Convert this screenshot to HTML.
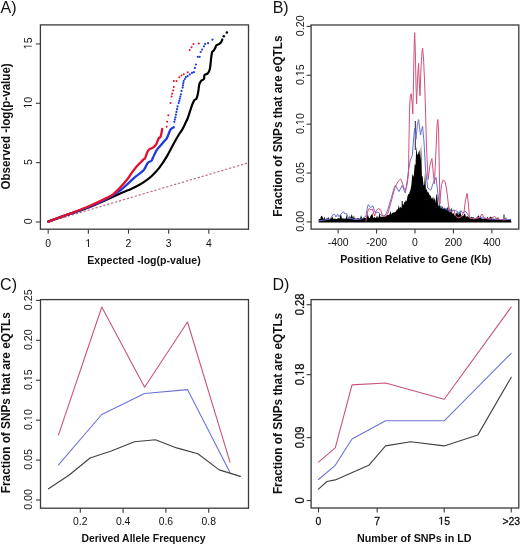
<!DOCTYPE html>
<html><head><meta charset="utf-8"><style>
html,body{margin:0;padding:0;background:#fff;}
svg{display:block;will-change:transform;filter:blur(0.35px);}
text{font-family:"Liberation Sans", sans-serif;}
</style></head><body>
<svg width="520" height="545" viewBox="0 0 520 545">
<rect width="520" height="545" fill="#fff"/>
<text x="0.5" y="13.2" font-size="16" fill="#111">A)</text>
<line x1="48.20" y1="222.00" x2="248" y2="162.93" stroke="#bb6a84" stroke-width="1.15" stroke-dasharray="2.3,1.8"/>
<path d="M48.20,221.60 C50.17,220.88 55.73,218.80 60.00,217.30 C64.27,215.80 68.80,214.33 73.80,212.60 C78.80,210.87 84.73,208.97 90.00,206.90 C95.27,204.83 100.27,202.47 105.40,200.20 C110.53,197.93 116.95,194.98 120.80,193.30 C124.65,191.62 125.93,191.22 128.50,190.10 C131.07,188.98 133.65,187.93 136.20,186.60 C138.75,185.27 141.25,183.83 143.80,182.10 C146.35,180.37 148.93,178.57 151.50,176.20 C154.07,173.83 156.63,171.20 159.20,167.90 C161.77,164.60 164.53,160.35 166.90,156.40 C169.27,152.45 171.45,147.77 173.40,144.20 C175.35,140.63 177.07,137.53 178.60,135.00 C180.13,132.47 181.53,130.83 182.60,129.00 C183.67,127.17 184.17,125.75 185.00,124.00 C185.83,122.25 186.80,120.52 187.60,118.50 C188.40,116.48 189.07,114.10 189.80,111.90 C190.53,109.70 191.27,107.23 192.00,105.30 C192.73,103.37 193.47,101.40 194.20,100.30 C194.93,99.20 195.77,99.88 196.40,98.70 C197.03,97.52 197.55,95.42 198.00,93.20 C198.45,90.98 198.82,87.07 199.10,85.40 C199.38,83.73 199.30,84.02 199.70,83.20 C200.10,82.38 200.78,81.20 201.50,80.50 C202.22,79.80 203.50,79.90 204.00,79.00 C204.50,78.10 203.85,76.07 204.50,75.10 C205.15,74.13 207.02,74.17 207.90,73.20 C208.78,72.23 209.32,71.22 209.80,69.30 C210.28,67.38 210.55,63.78 210.80,61.70 C211.05,59.62 211.07,58.42 211.30,56.80 C211.53,55.18 211.80,53.03 212.20,52.00 C212.60,50.97 213.22,51.23 213.70,50.60 C214.18,49.97 214.63,49.08 215.10,48.20 C215.57,47.32 215.78,46.02 216.50,45.30 C217.22,44.58 218.60,44.47 219.40,43.90 C220.20,43.33 220.82,42.63 221.30,41.90 C221.78,41.17 222.13,39.90 222.30,39.50" fill="none" stroke="#000" stroke-width="2.2" stroke-linecap="round" stroke-linejoin="round"/>
<path d="M48.20,221.60 C50.17,220.88 55.73,218.83 60.00,217.30 C64.27,215.77 68.80,214.20 73.80,212.40 C78.80,210.60 84.73,208.65 90.00,206.50 C95.27,204.35 100.27,202.25 105.40,199.50 C110.53,196.75 116.95,192.73 120.80,190.00 C124.65,187.27 125.93,185.40 128.50,183.10 C131.07,180.80 133.65,178.38 136.20,176.20 C138.75,174.02 141.88,172.20 143.80,170.00 C145.72,167.80 146.42,164.53 147.70,163.00 C148.98,161.47 150.63,161.67 151.50,160.80 C152.37,159.93 152.03,159.58 152.90,157.80 C153.77,156.02 155.42,152.13 156.70,150.10 C157.98,148.07 159.32,147.10 160.60,145.60 C161.88,144.10 163.33,142.38 164.40,141.10 C165.47,139.82 166.13,139.50 167.00,137.90 C167.87,136.30 168.93,132.98 169.60,131.50 C170.27,130.02 170.30,129.70 171.00,129.00 C171.70,128.30 173.33,127.58 173.80,127.30" fill="none" stroke="#1f3be0" stroke-width="2.3" stroke-linecap="round" stroke-linejoin="round"/>
<path d="M48.20,221.60 C50.17,220.87 55.73,218.77 60.00,217.20 C64.27,215.63 68.80,214.10 73.80,212.20 C78.80,210.30 84.73,208.07 90.00,205.80 C95.27,203.53 101.55,200.52 105.40,198.60 C109.25,196.68 110.53,196.25 113.10,194.30 C115.67,192.35 118.23,189.67 120.80,186.90 C123.37,184.13 126.72,180.00 128.50,177.70 C130.28,175.40 130.22,174.90 131.50,173.10 C132.78,171.30 134.65,168.70 136.20,166.90 C137.75,165.10 139.53,163.58 140.80,162.30 C142.07,161.02 143.08,159.87 143.80,159.20 C144.52,158.53 144.57,159.33 145.10,158.30 C145.63,157.27 146.35,154.47 147.00,153.00 C147.65,151.53 148.02,150.40 149.00,149.50 C149.98,148.60 151.72,148.47 152.90,147.60 C154.08,146.73 155.15,145.80 156.10,144.30 C157.05,142.80 157.85,139.88 158.60,138.60 C159.35,137.32 160.05,137.90 160.60,136.60 C161.15,135.30 161.63,132.07 161.90,130.80 C162.17,129.53 162.15,129.30 162.20,129.00" fill="none" stroke="#e0102e" stroke-width="2.3" stroke-linecap="round" stroke-linejoin="round"/>
<circle cx="174.30" cy="121.80" r="1.1" fill="#1f3be0"/>
<circle cx="174.85" cy="119.60" r="1.1" fill="#1f3be0"/>
<circle cx="175.40" cy="117.40" r="1.1" fill="#1f3be0"/>
<circle cx="175.95" cy="114.65" r="1.1" fill="#1f3be0"/>
<circle cx="176.50" cy="111.90" r="1.1" fill="#1f3be0"/>
<circle cx="177.05" cy="109.15" r="1.1" fill="#1f3be0"/>
<circle cx="177.60" cy="106.40" r="1.1" fill="#1f3be0"/>
<circle cx="178.70" cy="103.10" r="1.1" fill="#1f3be0"/>
<circle cx="179.25" cy="100.90" r="1.1" fill="#1f3be0"/>
<circle cx="179.80" cy="98.70" r="1.1" fill="#1f3be0"/>
<circle cx="180.35" cy="96.50" r="1.1" fill="#1f3be0"/>
<circle cx="180.90" cy="94.30" r="1.1" fill="#1f3be0"/>
<circle cx="181.50" cy="90.90" r="1.1" fill="#1f3be0"/>
<circle cx="182.60" cy="87.60" r="1.1" fill="#1f3be0"/>
<circle cx="182.97" cy="85.40" r="1.1" fill="#1f3be0"/>
<circle cx="183.33" cy="83.20" r="1.1" fill="#1f3be0"/>
<circle cx="183.70" cy="81.00" r="1.1" fill="#1f3be0"/>
<circle cx="184.80" cy="79.10" r="1.1" fill="#1f3be0"/>
<circle cx="185.90" cy="77.20" r="1.1" fill="#1f3be0"/>
<circle cx="187.60" cy="76.10" r="1.1" fill="#1f3be0"/>
<circle cx="189.80" cy="74.40" r="1.1" fill="#1f3be0"/>
<circle cx="192.00" cy="72.80" r="1.1" fill="#1f3be0"/>
<circle cx="193.90" cy="72.20" r="1.1" fill="#1f3be0"/>
<circle cx="194.90" cy="67.90" r="1.1" fill="#1f3be0"/>
<circle cx="195.90" cy="64.50" r="1.1" fill="#1f3be0"/>
<circle cx="197.80" cy="56.80" r="1.1" fill="#1f3be0"/>
<circle cx="199.70" cy="56.80" r="1.1" fill="#1f3be0"/>
<circle cx="200.70" cy="52.00" r="1.1" fill="#1f3be0"/>
<circle cx="202.10" cy="49.60" r="1.1" fill="#1f3be0"/>
<circle cx="204.00" cy="46.30" r="1.1" fill="#1f3be0"/>
<circle cx="205.20" cy="43.90" r="1.1" fill="#1f3be0"/>
<circle cx="208.10" cy="43.20" r="1.1" fill="#1f3be0"/>
<circle cx="212.50" cy="39.70" r="1.1" fill="#1f3be0"/>
<circle cx="166.60" cy="126.80" r="1.0" fill="#e0102e"/>
<circle cx="167.20" cy="121.80" r="1.0" fill="#e0102e"/>
<circle cx="168.30" cy="115.20" r="1.0" fill="#e0102e"/>
<circle cx="170.50" cy="103.10" r="1.0" fill="#e0102e"/>
<circle cx="171.60" cy="96.50" r="1.0" fill="#e0102e"/>
<circle cx="172.10" cy="93.70" r="1.0" fill="#e0102e"/>
<circle cx="173.20" cy="90.40" r="1.0" fill="#e0102e"/>
<circle cx="173.80" cy="87.10" r="1.0" fill="#e0102e"/>
<circle cx="173.80" cy="81.00" r="1.0" fill="#e0102e"/>
<circle cx="176.50" cy="81.00" r="1.0" fill="#e0102e"/>
<circle cx="179.30" cy="77.20" r="1.0" fill="#e0102e"/>
<circle cx="181.50" cy="75.50" r="1.0" fill="#e0102e"/>
<circle cx="183.80" cy="74.20" r="1.0" fill="#e0102e"/>
<circle cx="187.70" cy="72.20" r="1.0" fill="#e0102e"/>
<circle cx="189.60" cy="50.10" r="1.0" fill="#e0102e"/>
<circle cx="191.50" cy="47.20" r="1.0" fill="#e0102e"/>
<circle cx="193.50" cy="43.90" r="1.0" fill="#e0102e"/>
<circle cx="198.80" cy="43.40" r="1.0" fill="#e0102e"/>
<circle cx="223.80" cy="36.20" r="1.3" fill="#000"/>
<circle cx="226.90" cy="32.50" r="1.3" fill="#000"/>
<rect x="40.4" y="24.9" width="208.10" height="204.30" fill="none" stroke="#3a3a3a" stroke-width="1.3"/>
<line x1="48.20" y1="229.2" x2="48.20" y2="233.7" stroke="#3a3a3a" stroke-width="1.1"/>
<g transform="translate(48.20 247.0) scale(0.93 1)"><text x="0" y="0" font-size="11.2" text-anchor="middle" fill="#111" >0</text></g>
<line x1="88.35" y1="229.2" x2="88.35" y2="233.7" stroke="#3a3a3a" stroke-width="1.1"/>
<g transform="translate(88.35 247.0) scale(0.93 1)"><text x="0" y="0" font-size="11.2" text-anchor="middle" fill="#111" > </text><path d="M515,0 L515,1237 L197,1010 L197,1180 L530,1409 L696,1409 L696,0 Z" transform="translate(-3.114 0) scale(0.00547 -0.00547)" fill="#111" /></g>
<line x1="128.50" y1="229.2" x2="128.50" y2="233.7" stroke="#3a3a3a" stroke-width="1.1"/>
<g transform="translate(128.50 247.0) scale(0.93 1)"><text x="0" y="0" font-size="11.2" text-anchor="middle" fill="#111" >2</text></g>
<line x1="168.65" y1="229.2" x2="168.65" y2="233.7" stroke="#3a3a3a" stroke-width="1.1"/>
<g transform="translate(168.65 247.0) scale(0.93 1)"><text x="0" y="0" font-size="11.2" text-anchor="middle" fill="#111" >3</text></g>
<line x1="208.80" y1="229.2" x2="208.80" y2="233.7" stroke="#3a3a3a" stroke-width="1.1"/>
<g transform="translate(208.80 247.0) scale(0.93 1)"><text x="0" y="0" font-size="11.2" text-anchor="middle" fill="#111" >4</text></g>
<line x1="40.4" y1="222.00" x2="35.9" y2="222.00" stroke="#3a3a3a" stroke-width="1.1"/>
<g transform="translate(31.8 221.40) rotate(-90) scale(0.92 1)"><text x="0" y="0" font-size="11.6" text-anchor="middle" fill="#111" >0</text></g>
<line x1="40.4" y1="162.65" x2="35.9" y2="162.65" stroke="#3a3a3a" stroke-width="1.1"/>
<g transform="translate(31.8 162.05) rotate(-90) scale(0.92 1)"><text x="0" y="0" font-size="11.6" text-anchor="middle" fill="#111" >5</text></g>
<line x1="40.4" y1="103.30" x2="35.9" y2="103.30" stroke="#3a3a3a" stroke-width="1.1"/>
<g transform="translate(31.8 102.70) rotate(-90) scale(0.92 1)"><text x="0" y="0" font-size="11.6" text-anchor="middle" fill="#111" > 0</text><path d="M515,0 L515,1237 L197,1010 L197,1180 L530,1409 L696,1409 L696,0 Z" transform="translate(-6.451 0) scale(0.00566 -0.00566)" fill="#111" /></g>
<line x1="40.4" y1="43.95" x2="35.9" y2="43.95" stroke="#3a3a3a" stroke-width="1.1"/>
<g transform="translate(31.8 43.35) rotate(-90) scale(0.92 1)"><text x="0" y="0" font-size="11.6" text-anchor="middle" fill="#111" > 5</text><path d="M515,0 L515,1237 L197,1010 L197,1180 L530,1409 L696,1409 L696,0 Z" transform="translate(-6.451 0) scale(0.00566 -0.00566)" fill="#111" /></g>
<text x="87.19999999999999" y="263.7" font-size="11.5" font-weight="bold" fill="#111" textLength="113.50" lengthAdjust="spacingAndGlyphs">Expected -log(p-value)</text>
<text x="0" y="0" font-size="12.6" font-weight="bold" fill="#111" textLength="126.20" lengthAdjust="spacingAndGlyphs" transform="translate(9.8 189.5) rotate(-90)">Observed -log(p-value)</text>
<text x="272.7" y="13.0" font-size="16" fill="#111">B)</text>
<path d="M318.70,219.42 L319.50,218.92 L320.30,219.04 L321.10,215.80 L321.90,216.01 L322.70,217.17 L323.50,219.14 L324.30,216.62 L325.10,219.13 L325.90,218.75 L326.70,218.49 L327.50,218.60 L328.30,216.78 L329.10,219.34 L329.90,219.15 L330.70,218.51 L331.50,218.29 L332.30,216.35 L333.10,218.51 L333.90,219.11 L334.70,218.40 L335.50,218.66 L336.30,219.07 L337.10,218.76 L337.90,218.35 L338.70,218.22 L339.50,218.65 L340.30,215.25 L341.10,214.61 L341.90,218.49 L342.70,218.30 L343.50,218.49 L344.30,218.38 L345.10,218.71 L345.90,218.50 L346.70,214.41 L347.50,218.70 L348.30,218.18 L349.10,218.44 L349.90,215.19 L350.70,218.55 L351.50,214.08 L352.30,215.89 L353.10,218.51 L353.90,215.15 L354.70,218.49 L355.50,218.46 L356.30,218.67 L357.10,218.45 L357.90,217.88 L358.70,218.49 L359.50,218.67 L360.30,217.90 L361.10,215.08 L361.90,218.06 L362.70,218.11 L363.50,218.02 L364.30,217.53 L365.10,218.07 L365.90,218.05 L366.70,217.68 L367.50,214.00 L368.30,215.95 L369.10,218.00 L369.90,217.86 L370.70,215.55 L371.50,214.78 L372.30,212.97 L373.10,217.20 L373.90,218.01 L374.70,217.12 L375.50,217.88 L376.30,217.40 L377.10,215.53 L377.90,217.83 L378.70,217.03 L379.50,212.49 L380.30,216.86 L381.10,216.43 L381.90,217.12 L382.70,216.55 L383.50,216.76 L384.30,217.01 L385.10,215.83 L385.90,215.83 L386.70,215.60 L387.50,215.09 L388.30,214.74 L389.10,215.30 L389.90,213.07 L390.70,210.99 L391.50,214.74 L392.30,212.60 L393.10,213.25 L393.90,211.66 L394.70,212.53 L395.50,211.81 L396.30,210.81 L397.10,208.94 L397.90,209.73 L398.70,205.10 L399.50,208.71 L400.30,206.27 L401.10,208.33 L401.90,207.13 L402.70,202.89 L403.50,205.24 L404.30,201.67 L405.10,202.30 L405.90,199.70 L406.70,201.76 L407.50,196.01 L408.30,194.13 L409.10,193.71 L409.90,191.36 L410.70,188.99 L411.50,183.81 L412.30,173.19 L413.10,176.93 L413.90,174.72 L414.70,163.66 L415.50,165.61 L416.30,146.39 L417.10,154.04 L417.90,154.72 L418.70,151.75 L419.50,149.83 L420.30,159.88 L421.10,143.68 L421.90,176.17 L422.70,176.30 L423.50,185.46 L424.30,184.17 L425.10,171.14 L425.90,190.14 L426.70,188.52 L427.50,192.17 L428.30,191.95 L429.10,194.02 L429.90,195.82 L430.70,195.60 L431.50,198.35 L432.30,198.70 L433.10,196.46 L433.90,200.53 L434.70,197.62 L435.50,203.11 L436.30,195.20 L437.10,193.40 L437.90,203.78 L438.70,206.56 L439.50,202.25 L440.30,205.89 L441.10,208.99 L441.90,205.54 L442.70,207.29 L443.50,208.97 L444.30,207.14 L445.10,209.83 L445.90,207.71 L446.70,209.48 L447.50,206.41 L448.30,211.00 L449.10,205.90 L449.90,212.79 L450.70,208.93 L451.50,207.88 L452.30,213.51 L453.10,213.86 L453.90,213.06 L454.70,215.68 L455.50,214.42 L456.30,212.19 L457.10,214.65 L457.90,210.91 L458.70,215.47 L459.50,211.47 L460.30,211.65 L461.10,215.27 L461.90,216.15 L462.70,216.22 L463.50,215.58 L464.30,213.87 L465.10,213.96 L465.90,216.93 L466.70,216.22 L467.50,216.24 L468.30,217.00 L469.10,217.13 L469.90,217.05 L470.70,217.78 L471.50,216.79 L472.30,217.17 L473.10,217.62 L473.90,217.40 L474.70,217.90 L475.50,218.50 L476.30,217.75 L477.10,217.59 L477.90,216.02 L478.70,215.37 L479.50,218.28 L480.30,215.45 L481.10,218.19 L481.90,218.47 L482.70,218.67 L483.50,218.69 L484.30,219.11 L485.10,218.29 L485.90,219.17 L486.70,218.77 L487.50,216.44 L488.30,218.42 L489.10,218.98 L489.90,216.71 L490.70,216.63 L491.50,217.05 L492.30,218.93 L493.10,218.67 L493.90,218.80 L494.70,218.97 L495.50,218.67 L496.30,218.60 L497.10,218.94 L497.90,216.69 L498.70,219.01 L499.50,219.16 L500.30,219.46 L501.10,219.23 L501.90,219.25 L502.70,219.31 L503.50,219.23 L504.30,219.30 L505.10,219.51 L505.90,217.13 L506.70,219.30 L507.50,219.36 L508.30,219.03 L509.10,219.44 L509.90,219.36 L510.70,219.15 L511.50,222.60 L318.70,222.60 Z" fill="#000"/>
<line x1="415.3" y1="121" x2="415.3" y2="150" stroke="#223" stroke-width="1"/>
<line x1="402.2" y1="201" x2="402.2" y2="210" stroke="#000" stroke-width="1"/>
<line x1="504" y1="214.6" x2="504" y2="220" stroke="#000" stroke-width="1"/>
<polyline points="318.70,221.00 330.00,219.00 332.70,215.00 334.50,214.20 336.00,217.00 337.50,214.30 339.00,216.80 340.50,214.50 342.00,213.00 343.50,211.70 345.00,214.00 346.50,213.50 348.50,218.00 355.00,219.50 362.00,219.00 366.00,216.00 367.50,207.00 368.30,204.60 370.50,207.50 372.90,205.80 374.50,211.00 376.00,213.00 378.00,212.00 381.00,215.00 384.00,216.00 386.00,214.00 388.00,209.00 391.00,199.00 393.50,190.00 395.30,185.30 397.00,188.00 399.00,191.60 402.20,185.30 405.30,193.10 407.00,182.00 408.40,171.30 410.40,160.00 412.30,155.60 413.50,140.00 414.60,128.40 416.00,139.40 417.30,125.00 418.60,119.60 420.50,135.00 421.50,130.00 422.60,126.20 424.00,142.00 425.50,169.00 427.70,188.00 430.80,190.20 433.50,182.00 436.10,177.50 437.50,190.00 439.30,205.00 442.00,208.00 446.60,209.20 450.00,212.00 453.00,210.00 457.20,211.30 459.00,214.00 460.80,210.60 462.50,213.00 465.60,211.30 467.50,214.00 470.00,218.00 475.00,218.50 480.00,217.50 490.00,219.00 500.00,219.50 510.00,219.50" fill="none" stroke="#6670d6" stroke-width="1.0" stroke-linejoin="round" stroke-linecap="round" />
<polyline points="366.00,221.00 367.50,212.00 369.00,208.50 371.00,210.00 372.50,209.00 374.60,216.10 376.00,211.00 378.10,208.60 380.40,209.50 382.70,216.00 385.60,216.50 388.00,213.00 390.50,204.00 393.00,195.00 395.20,187.00 398.00,181.50 400.60,179.00 402.50,183.00 403.80,188.40 405.50,190.00 407.00,185.00 408.40,175.00 409.00,140.00 409.50,110.00 410.30,96.00 411.10,93.70 412.20,103.00 412.80,113.90 413.50,80.00 414.20,45.00 414.70,32.70 415.30,50.00 416.00,85.00 416.60,103.80 417.60,78.00 418.60,63.40 419.40,85.00 420.00,95.70 421.00,68.00 422.00,52.00 422.60,48.20 423.50,58.00 424.50,80.00 425.50,110.00 426.60,150.00 428.10,179.60 430.00,165.00 431.90,158.50 433.00,170.00 434.40,183.80 436.00,150.00 437.00,125.00 437.80,119.50 438.60,130.00 439.30,170.00 439.90,204.00 440.60,193.00 441.60,184.50 443.30,179.80 445.20,182.00 446.70,190.00 447.90,200.00 448.80,209.20 451.00,212.00 454.00,210.20 455.50,216.00 458.00,218.00 461.00,217.00 464.00,212.00 465.50,200.00 467.10,193.30 468.50,205.00 469.50,218.00 475.00,219.00 480.00,217.00 482.10,214.00 484.00,218.00 490.00,219.00 494.80,216.30 497.00,219.00 505.00,220.00" fill="none" stroke="#d2507e" stroke-width="1.0" stroke-linejoin="round" stroke-linecap="round" />
<rect x="311.1" y="25.0" width="207.70" height="204.10" fill="none" stroke="#3a3a3a" stroke-width="1.3"/>
<line x1="338.12" y1="229.1" x2="338.12" y2="233.6" stroke="#3a3a3a" stroke-width="1.1"/>
<g transform="translate(338.12 246.4) scale(0.93 1)"><text x="0" y="0" font-size="11.2" text-anchor="middle" fill="#111" >-400</text></g>
<line x1="376.56" y1="229.1" x2="376.56" y2="233.6" stroke="#3a3a3a" stroke-width="1.1"/>
<g transform="translate(376.56 246.4) scale(0.93 1)"><text x="0" y="0" font-size="11.2" text-anchor="middle" fill="#111" >-200</text></g>
<line x1="415.00" y1="229.1" x2="415.00" y2="233.6" stroke="#3a3a3a" stroke-width="1.1"/>
<g transform="translate(415.00 246.4) scale(0.93 1)"><text x="0" y="0" font-size="11.2" text-anchor="middle" fill="#111" >0</text></g>
<line x1="453.44" y1="229.1" x2="453.44" y2="233.6" stroke="#3a3a3a" stroke-width="1.1"/>
<g transform="translate(453.44 246.4) scale(0.93 1)"><text x="0" y="0" font-size="11.2" text-anchor="middle" fill="#111" >200</text></g>
<line x1="491.88" y1="229.1" x2="491.88" y2="233.6" stroke="#3a3a3a" stroke-width="1.1"/>
<g transform="translate(491.88 246.4) scale(0.93 1)"><text x="0" y="0" font-size="11.2" text-anchor="middle" fill="#111" >400</text></g>
<line x1="311.1" y1="221.90" x2="306.6" y2="221.90" stroke="#3a3a3a" stroke-width="1.1"/>
<g transform="translate(303.9 221.30) rotate(-90) scale(0.92 1)"><text x="0" y="0" font-size="11.6" text-anchor="middle" fill="#111" >0.00</text></g>
<line x1="311.1" y1="173.03" x2="306.6" y2="173.03" stroke="#3a3a3a" stroke-width="1.1"/>
<g transform="translate(303.9 172.43) rotate(-90) scale(0.92 1)"><text x="0" y="0" font-size="11.6" text-anchor="middle" fill="#111" >0.05</text></g>
<line x1="311.1" y1="124.15" x2="306.6" y2="124.15" stroke="#3a3a3a" stroke-width="1.1"/>
<g transform="translate(303.9 123.55) rotate(-90) scale(0.92 1)"><text x="0" y="0" font-size="11.6" text-anchor="middle" fill="#111" >0. 0</text><path d="M515,0 L515,1237 L197,1010 L197,1180 L530,1409 L696,1409 L696,0 Z" transform="translate(-1.614 0) scale(0.00566 -0.00566)" fill="#111" /></g>
<line x1="311.1" y1="75.28" x2="306.6" y2="75.28" stroke="#3a3a3a" stroke-width="1.1"/>
<g transform="translate(303.9 74.68) rotate(-90) scale(0.92 1)"><text x="0" y="0" font-size="11.6" text-anchor="middle" fill="#111" >0. 5</text><path d="M515,0 L515,1237 L197,1010 L197,1180 L530,1409 L696,1409 L696,0 Z" transform="translate(-1.614 0) scale(0.00566 -0.00566)" fill="#111" /></g>
<line x1="311.1" y1="26.40" x2="306.6" y2="26.40" stroke="#3a3a3a" stroke-width="1.1"/>
<g transform="translate(303.9 25.80) rotate(-90) scale(0.92 1)"><text x="0" y="0" font-size="11.6" text-anchor="middle" fill="#111" >0.20</text></g>
<text x="340.3" y="263.4" font-size="11.5" font-weight="bold" fill="#111" textLength="151.20" lengthAdjust="spacingAndGlyphs">Position Relative to Gene (Kb)</text>
<text x="0" y="0" font-size="12.6" font-weight="bold" fill="#111" textLength="181.30" lengthAdjust="spacingAndGlyphs" transform="translate(282.4 216.70000000000002) rotate(-90)">Fraction of SNPs that are eQTLs</text>
<text x="0.1" y="290.0" font-size="16" fill="#111">C)</text>
<polyline points="58.50,434.90 101.80,307.00 144.60,387.20 187.50,322.00 230.00,462.20" fill="none" stroke="#c8547e" stroke-width="1.1" stroke-linejoin="round" stroke-linecap="round" />
<polyline points="58.50,464.90 101.70,414.50 144.60,393.50 187.50,389.60 230.00,472.60" fill="none" stroke="#6c74d6" stroke-width="1.1" stroke-linejoin="round" stroke-linecap="round" />
<polyline points="48.50,488.80 68.90,475.30 90.10,458.00 111.30,451.10 134.40,441.80 155.40,439.80 176.70,447.90 197.90,453.70 219.20,469.90 240.40,476.40" fill="none" stroke="#404040" stroke-width="1.1" stroke-linejoin="round" stroke-linecap="round" />
<rect x="40.5" y="299.6" width="208.00" height="208.60" fill="none" stroke="#3a3a3a" stroke-width="1.3"/>
<line x1="80.30" y1="508.2" x2="80.30" y2="512.7" stroke="#3a3a3a" stroke-width="1.1"/>
<g transform="translate(80.30 525.1) scale(0.93 1)"><text x="0" y="0" font-size="11.2" text-anchor="middle" fill="#111" >0.2</text></g>
<line x1="123.10" y1="508.2" x2="123.10" y2="512.7" stroke="#3a3a3a" stroke-width="1.1"/>
<g transform="translate(123.10 525.1) scale(0.93 1)"><text x="0" y="0" font-size="11.2" text-anchor="middle" fill="#111" >0.4</text></g>
<line x1="165.90" y1="508.2" x2="165.90" y2="512.7" stroke="#3a3a3a" stroke-width="1.1"/>
<g transform="translate(165.90 525.1) scale(0.93 1)"><text x="0" y="0" font-size="11.2" text-anchor="middle" fill="#111" >0.6</text></g>
<line x1="208.70" y1="508.2" x2="208.70" y2="512.7" stroke="#3a3a3a" stroke-width="1.1"/>
<g transform="translate(208.70 525.1) scale(0.93 1)"><text x="0" y="0" font-size="11.2" text-anchor="middle" fill="#111" >0.8</text></g>
<line x1="40.5" y1="500.00" x2="36.0" y2="500.00" stroke="#3a3a3a" stroke-width="1.1"/>
<g transform="translate(32.0 499.40) rotate(-90) scale(0.92 1)"><text x="0" y="0" font-size="11.6" text-anchor="middle" fill="#111" >0.00</text></g>
<line x1="40.5" y1="460.08" x2="36.0" y2="460.08" stroke="#3a3a3a" stroke-width="1.1"/>
<g transform="translate(32.0 459.48) rotate(-90) scale(0.92 1)"><text x="0" y="0" font-size="11.6" text-anchor="middle" fill="#111" >0.05</text></g>
<line x1="40.5" y1="420.16" x2="36.0" y2="420.16" stroke="#3a3a3a" stroke-width="1.1"/>
<g transform="translate(32.0 419.56) rotate(-90) scale(0.92 1)"><text x="0" y="0" font-size="11.6" text-anchor="middle" fill="#111" >0. 0</text><path d="M515,0 L515,1237 L197,1010 L197,1180 L530,1409 L696,1409 L696,0 Z" transform="translate(-1.614 0) scale(0.00566 -0.00566)" fill="#111" /></g>
<line x1="40.5" y1="380.24" x2="36.0" y2="380.24" stroke="#3a3a3a" stroke-width="1.1"/>
<g transform="translate(32.0 379.64) rotate(-90) scale(0.92 1)"><text x="0" y="0" font-size="11.6" text-anchor="middle" fill="#111" >0. 5</text><path d="M515,0 L515,1237 L197,1010 L197,1180 L530,1409 L696,1409 L696,0 Z" transform="translate(-1.614 0) scale(0.00566 -0.00566)" fill="#111" /></g>
<line x1="40.5" y1="340.32" x2="36.0" y2="340.32" stroke="#3a3a3a" stroke-width="1.1"/>
<g transform="translate(32.0 339.72) rotate(-90) scale(0.92 1)"><text x="0" y="0" font-size="11.6" text-anchor="middle" fill="#111" >0.20</text></g>
<line x1="40.5" y1="300.40" x2="36.0" y2="300.40" stroke="#3a3a3a" stroke-width="1.1"/>
<g transform="translate(32.0 299.80) rotate(-90) scale(0.92 1)"><text x="0" y="0" font-size="11.6" text-anchor="middle" fill="#111" >0.25</text></g>
<text x="81.39999999999999" y="542.1" font-size="11.5" font-weight="bold" fill="#111" textLength="124.10" lengthAdjust="spacingAndGlyphs">Derived Allele Frequency</text>
<text x="0" y="0" font-size="12.6" font-weight="bold" fill="#111" textLength="181.10" lengthAdjust="spacingAndGlyphs" transform="translate(9.7 493.2) rotate(-90)">Fraction of SNPs that are eQTLs</text>
<text x="272.4" y="290.0" font-size="16" fill="#111">D)</text>
<polyline points="318.50,462.20 335.26,447.90 352.02,384.90 385.54,383.00 444.20,399.20 511.24,307.00" fill="none" stroke="#c8547e" stroke-width="1.1" stroke-linejoin="round" stroke-linecap="round" />
<polyline points="318.50,479.50 335.26,465.30 352.02,439.00 385.54,420.80 444.20,420.80 511.24,353.30" fill="none" stroke="#6c74d6" stroke-width="1.1" stroke-linejoin="round" stroke-linecap="round" />
<polyline points="318.50,489.20 326.88,481.50 335.26,479.90 368.78,465.30 385.54,445.90 410.68,441.70 444.20,445.90 477.72,435.10 511.24,377.20" fill="none" stroke="#404040" stroke-width="1.1" stroke-linejoin="round" stroke-linecap="round" />
<rect x="311.1" y="299.6" width="207.70" height="208.40" fill="none" stroke="#3a3a3a" stroke-width="1.3"/>
<line x1="318.50" y1="508.0" x2="318.50" y2="512.5" stroke="#3a3a3a" stroke-width="1.1"/>
<g transform="translate(318.50 524.6) scale(0.93 1)"><text x="0" y="0" font-size="11.2" text-anchor="middle" fill="#111" stroke="#111" stroke-width="0.3">0</text></g>
<line x1="377.16" y1="508.0" x2="377.16" y2="512.5" stroke="#3a3a3a" stroke-width="1.1"/>
<g transform="translate(377.16 524.6) scale(0.93 1)"><text x="0" y="0" font-size="11.2" text-anchor="middle" fill="#111" stroke="#111" stroke-width="0.3">7</text></g>
<line x1="444.20" y1="508.0" x2="444.20" y2="512.5" stroke="#3a3a3a" stroke-width="1.1"/>
<g transform="translate(444.20 524.6) scale(0.93 1)"><text x="0" y="0" font-size="11.2" text-anchor="middle" fill="#111" stroke="#111" stroke-width="0.3"> 5</text><path d="M515,0 L515,1237 L197,1010 L197,1180 L530,1409 L696,1409 L696,0 Z" transform="translate(-6.229 0) scale(0.00547 -0.00547)" fill="#111" stroke="#111" stroke-width="54.9"/></g>
<line x1="511.24" y1="508.0" x2="511.24" y2="512.5" stroke="#3a3a3a" stroke-width="1.1"/>
<g transform="translate(511.24 524.6) scale(0.93 1)"><text x="0" y="0" font-size="11.2" text-anchor="middle" fill="#111" stroke="#111" stroke-width="0.3">&gt;23</text></g>
<line x1="311.1" y1="500.60" x2="306.6" y2="500.60" stroke="#3a3a3a" stroke-width="1.1"/>
<g transform="translate(303.6 500.30) rotate(-90) scale(0.92 1)"><text x="0" y="0" font-size="12.2" text-anchor="middle" fill="#111" stroke="#111" stroke-width="0.3">0</text></g>
<line x1="311.1" y1="437.64" x2="306.6" y2="437.64" stroke="#3a3a3a" stroke-width="1.1"/>
<g transform="translate(303.6 437.34) rotate(-90) scale(0.92 1)"><text x="0" y="0" font-size="12.2" text-anchor="middle" fill="#111" stroke="#111" stroke-width="0.3">0.09</text></g>
<line x1="311.1" y1="374.67" x2="306.6" y2="374.67" stroke="#3a3a3a" stroke-width="1.1"/>
<g transform="translate(303.6 374.37) rotate(-90) scale(0.92 1)"><text x="0" y="0" font-size="12.2" text-anchor="middle" fill="#111" stroke="#111" stroke-width="0.3">0. 8</text><path d="M515,0 L515,1237 L197,1010 L197,1180 L530,1409 L696,1409 L696,0 Z" transform="translate(-1.698 0) scale(0.00596 -0.00596)" fill="#111" stroke="#111" stroke-width="50.4"/></g>
<line x1="311.1" y1="304.71" x2="306.6" y2="304.71" stroke="#3a3a3a" stroke-width="1.1"/>
<g transform="translate(303.6 304.41) rotate(-90) scale(0.92 1)"><text x="0" y="0" font-size="12.2" text-anchor="middle" fill="#111" stroke="#111" stroke-width="0.3">0.28</text></g>
<text x="357.0" y="542.1" font-size="11.5" font-weight="bold" fill="#111" textLength="114.50" lengthAdjust="spacingAndGlyphs">Number of SNPs in LD</text>
<text x="0" y="0" font-size="12.6" font-weight="bold" fill="#111" textLength="181.30" lengthAdjust="spacingAndGlyphs" transform="translate(282.4 494.09999999999997) rotate(-90)">Fraction of SNPs that are eQTLs</text>
</svg>
</body></html>
